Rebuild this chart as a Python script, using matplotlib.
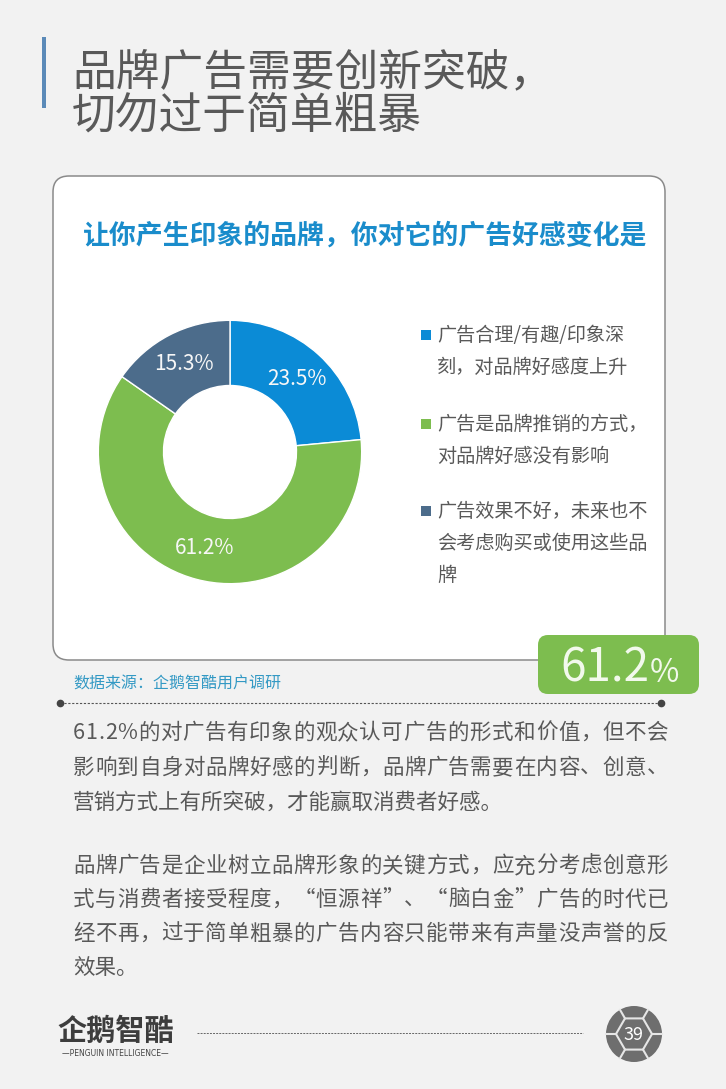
import matplotlib
matplotlib.use('Agg')
import matplotlib.pyplot as plt
from matplotlib.patches import FancyBboxPatch, Rectangle, Circle
import numpy as np

plt.rcParams['font.family'] = ['Noto Sans CJK SC', 'DejaVu Sans']

# data
shares = [23.5, 61.2, 15.3]
share_colors = ['#0b8bd6', '#7dbd4f', '#4c6c8b']
legend_lines = [
    ['广告合理/有趣/印象深', '刻，对品牌好感度上升'],
    ['广告是品牌推销的方式，', '对品牌好感没有影响'],
    ['广告效果不好，未来也不', '会考虑购买或使用这些品', '牌'],
]
title_lines = ['品牌广告需要创新突破，', '切勿过于简单粗暴']
chart_title = '让你产生印象的品牌，你对它的广告好感变化是'
source = '数据来源：企鹅智酷用户调研'
highlight = '61.2'
para1 = ['61.2%的对广告有印象的观众认可广告的形式和价值，但不会',
         '影响到自身对品牌好感的判断，品牌广告需要在内容、创意、',
         '营销方式上有所突破，才能赢取消费者好感。']
para2 = ['品牌广告是企业树立品牌形象的关键方式，应充分考虑创意形',
         '式与消费者接受程度，“恒源祥”、“脑白金”广告的时代已',
         '经不再，过于简单粗暴的广告内容只能带来有声量没声誉的反',
         '效果。']
page_no = '39'

W, H = 726, 1089
text_gray = '#595959'

fig = plt.figure(figsize=(W / 100, H / 100), dpi=100)
fig.patch.set_facecolor('#f2f2f2')
ax = fig.add_axes([0, 0, 1, 1])
ax.set_xlim(0, W)
ax.set_ylim(H, 0)
ax.axis('off')
renderer = fig.canvas.get_renderer()


def width_of(s, size):
    t = ax.text(0, 0, s, fontsize=size)
    w = t.get_window_extent(renderer).width
    t.remove()
    return w


def justified(line, x0, x1, y, size, last=False):
    # spread the characters so the line fills x0..x1, like the source layout
    if last:
        ax.text(x0, y, line, fontsize=size, color=text_gray, va='center', ha='left')
        return
    gap = (x1 - x0 - width_of(line, size)) / (len(line) - 1)
    for i, ch in enumerate(line):
        x = x0 + (width_of(line[:i], size) if i else 0) + i * gap
        ax.text(x, y, ch, fontsize=size, color=text_gray, va='center', ha='left')


# header
ax.add_patch(Rectangle((42, 37), 3.5, 71, fc='#5b8ab8', ec='none'))
for i, line in enumerate(title_lines):
    ax.text(72, 72 + i * 44, line, fontsize=31.5, color=text_gray, va='center', ha='left')

# card
ax.add_patch(FancyBboxPatch((53, 176), 612, 484, boxstyle='round,pad=0,rounding_size=16',
                            fc='white', ec='#8a8a8a', lw=1.1, zorder=1))
ax.text(83, 236, chart_title, fontsize=19.4, fontweight='bold', color='#1a8ccb',
        va='center', ha='left', zorder=3)

# donut
pax = fig.add_axes([97 / W, 1 - 585 / H, 266 / W, 266 / H])
wedges, texts, autotexts = pax.pie(
    shares, colors=share_colors, startangle=90, counterclock=False,
    wedgeprops=dict(width=0.495, edgecolor='white', linewidth=1),
    autopct='%.1f%%', pctdistance=0.75,
    textprops=dict(color='#f7f7f7', fontsize=15))
pax.set_xlim(-1.01, 1.01)
pax.set_ylim(-1.01, 1.01)
pax.set_aspect('equal')

# legend
group_y = [335, 424, 511]
for lines, c, y0 in zip(legend_lines, share_colors, group_y):
    ax.add_patch(Rectangle((421, y0 - 5), 10, 10, fc=c, ec='none', zorder=3))
    for j, line in enumerate(lines):
        ax.text(437, y0 + j * 32, line, fontsize=13.8, color=text_gray,
                va='center', ha='left', zorder=3)

# highlight badge
ax.add_patch(FancyBboxPatch((538, 635), 161, 59, boxstyle='round,pad=0,rounding_size=10',
                            fc='#7dbd4f', ec='none', zorder=4))
ax.text(649, 682, highlight, fontsize=33, color='#f2f9ec', ha='right', va='baseline', zorder=5)
ax.text(650, 682, '%', fontsize=23, color='#f2f9ec', ha='left', va='baseline', zorder=5)

# source
ax.text(73, 684, source, fontsize=11.5, color='#3399c4', va='center', ha='left')
ax.plot([60, 661], [703, 703], ls=(0, (2, 1.5)), color='#555555', lw=0.8)
ax.plot([60, 661], [703, 703], 'o', color='#444444', ms=4.5, ls='none')

# body text
for i, line in enumerate(para1):
    justified(line, 73, 668, 733 + i * 35, 15.5, last=(i == len(para1) - 1))
for i, line in enumerate(para2):
    justified(line, 73, 668, 866 + i * 34, 15.5, last=(i == len(para2) - 1))

# footer
ax.text(57, 1031, '企鹅智酷', fontsize=21, fontweight='bold', color='#3d3d3d',
        va='center', ha='left')
ax.text(115, 1054, '—PENGUIN INTELLIGENCE—', fontsize=5.5, color='#444444',
        va='center', ha='center', family=['DejaVu Sans'])
ax.plot([197, 583], [1033, 1033], ls=(0, (2, 1.2)), color='#666666', lw=0.7)

cx, cy, r = 634, 1034, 28
ax.add_patch(Circle((cx, cy), r, fc='#6e6e6e', ec='none'))
ang = np.deg2rad(np.arange(0, 360, 60))
hx = cx + 18 * np.cos(ang)
hy = cy + 18 * np.sin(ang)
ax.fill(hx, hy, fc='#6e6e6e', ec='#e6e6e6', lw=1.5)
for a, x0, y0 in zip(ang, hx, hy):
    ax.plot([x0, cx + r * np.cos(a)], [y0, cy + r * np.sin(a)], color='#e6e6e6', lw=1.5)
ax.text(cx, cy + 1, page_no, fontsize=13, color='white', ha='center', va='center')

fig.savefig('out.png', dpi=100, facecolor=fig.get_facecolor())
